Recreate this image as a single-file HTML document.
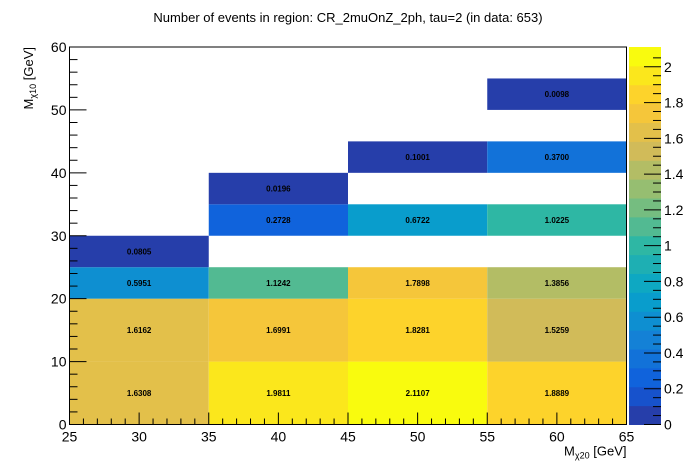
<!DOCTYPE html>
<html><head><meta charset="utf-8"><style>
body{margin:0;background:#fff}
svg{display:block;font-family:"Liberation Sans",sans-serif}
</style></head><body>
<svg id="c" width="696" height="472">
<text x="348" y="22" text-anchor="middle" font-size="13">Number of events in region: CR_2muOnZ_2ph, tau=2 (in data: 653)</text>
<g id="cells"></g><g id="axes"></g>
</svg>
<script>
const cellY0=[0,10,20,25,0,10,20,30,35,0,10,20,30,40,0,10,20,30,40,50];
const cellY1=[10,20,25,30,10,20,25,35,40,10,20,25,35,45,10,20,25,35,45,55];
const cellXLo=[25,25,25,25,35,35,35,35,35,45,45,45,45,45,55,55,55,55,55,55];
const cellVals=[1.6308,1.6162,0.5951,0.0805,1.9811,1.6991,1.1242,0.2728,0.0196,2.1107,1.8281,1.7898,0.6722,0.1001,1.8889,1.5259,1.3856,1.0225,0.3700,0.0098];
const xTicks=[25,30,35,40,45,50,55,60,65];
const yTicks=[0,10,20,30,40,50,60];
const zTicks=[0,0.2,0.4,0.6,0.8,1,1.2,1.4,1.6,1.8,2];
const L=69.5,R=626.5,T=47,B=424.5,zmax=2.1107,NB=20,PL=629,PR=661;
const X=v=>L+(v-25)/40*(R-L), Y=v=>B-v/60*(B-T), Z=v=>B-v/zmax*(B-T);
const st=[0,.125,.25,.375,.5,.625,.75,.875,1];
const rr=[.2082,.0592,.0780,.0232,.1802,.5301,.8186,.9956,.9764];
const gg=[.1664,.3599,.5041,.6419,.7178,.7492,.7328,.7862,.9832];
const bb=[.5293,.8684,.8385,.7914,.6425,.4662,.3499,.1968,.0539];
function bird(t){let i=Math.min(7,Math.floor(t*8));const f=(t-st[i])*8;
 const c=a=>Math.round(255*(a[i]+(a[i+1]-a[i])*f));return `rgb(${c(rr)},${c(gg)},${c(bb)})`;}
function band(v){return Math.min(NB-1,Math.floor(v/zmax*NB));}
function bandColor(i){return bird((i+1)/NB);}
const NS='http://www.w3.org/2000/svg';
function mk(tag,at,par,txt){const e=document.createElementNS(NS,tag);for(const k in at)e.setAttribute(k,at[k]);if(txt!==undefined)e.textContent=txt;par.appendChild(e);return e;}
const cg=document.getElementById('cells'),ag=document.getElementById('axes');
cellVals.forEach((v,i)=>{
 const x0=X(cellXLo[i]),x1=X(cellXLo[i]+10),y0=Y(cellY1[i]),y1=Y(cellY0[i]);
 const r=mk('rect',{x:x0,y:y0,width:x1-x0,height:y1-y0,fill:bandColor(band(v))},cg);
 
 
 const t=mk('text',{x:(x0+x1)/2,y:(y0+y1)/2+3,'text-anchor':'middle','font-size':'8','font-weight':'bold'},cg,v.toFixed(4));
 
 
});
mk('rect',{x:L,y:T,width:R-L,height:B-T,fill:'none',stroke:'#000','stroke-width':1},ag);
for(let v=25;v<=65;v++){const big=xTicks.includes(v);const h=big?12:6;
 mk('line',{x1:X(v),x2:X(v),y1:B,y2:B-h,stroke:'#000'},ag);}
xTicks.forEach(v=>{const t=mk('text',{x:X(v),y:B+17,'text-anchor':'middle','font-size':'14'},ag,v);
 });
for(let v=0;v<=60;v+=2){const big=yTicks.includes(v);const w=big?17:8;
 mk('line',{x1:L,x2:L+w,y1:Y(v),y2:Y(v),stroke:'#000'},ag);}
yTicks.forEach(v=>{const t=mk('text',{x:L-3,y:Y(v)+5,'text-anchor':'end','font-size':'14'},ag,v);
 });
const xt=mk('text',{x:R,y:B+31,'text-anchor':'end','font-size':'13'},ag);
xt.innerHTML='M<tspan font-size="9" dy="3">χ20</tspan><tspan dy="-3"> [GeV]</tspan>';

const yt=mk('text',{transform:'translate(33,47) rotate(-90)','text-anchor':'end','font-size':'13'},ag);
yt.innerHTML='M<tspan font-size="9" dy="3">χ10</tspan><tspan dy="-3"> [GeV]</tspan>';

for(let i=0;i<NB;i++){const y0=B-(i+1)*(B-T)/NB;
 const r=mk('rect',{x:PL,y:y0,width:PR-PL,height:(B-T)/NB+0.5,fill:bandColor(i)},ag);
 }
for(let v=0;v<=2.1;v+=0.05){const vv=Math.round(v*100)/100;const big=zTicks.some(z=>Math.abs(z-vv)<1e-6);
 mk('line',{x1:PR,x2:PR-(big?17:8),y1:Z(vv),y2:Z(vv),stroke:'#000'},ag);}
zTicks.forEach(v=>{const t=mk('text',{x:PR+3,y:Z(v)+5,'font-size':'14'},ag,String(v));
 });
</script>
</body></html>
